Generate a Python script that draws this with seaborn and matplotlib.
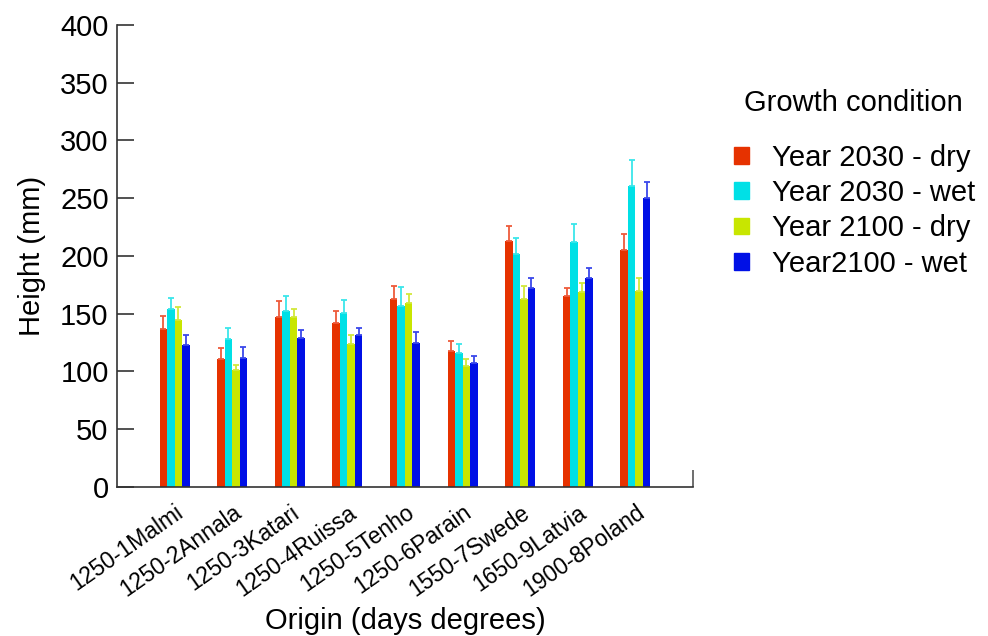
import numpy as np
import pandas as pd
import matplotlib
matplotlib.use("Agg")
import matplotlib.pyplot as plt
import seaborn as sns

origins = ["1250-1Malmi", "1250-2Annala", "1250-3Katari", "1250-4Ruissa",
           "1250-5Tenho", "1250-6Parain", "1550-7Swede", "1650-9Latvia", "1900-8Poland"]
conditions = ["Year 2030 - dry", "Year 2030 - wet", "Year 2100 - dry", "Year2100 - wet"]

dry_2030 = [137, 111, 147, 142, 163, 118, 213, 165, 205]
wet_2030 = [154, 128, 152, 151, 157, 116, 202, 212, 261]
dry_2100 = [145, 101, 147, 124, 159, 105, 163, 169, 170]
wet_2100 = [123, 112, 129, 132, 125, 107, 172, 181, 250]

# upper error (height of bar + err gives top of whisker)
err_dry_2030 = [11, 9, 14, 10, 11, 8, 13, 7, 14]
err_wet_2030 = [10, 10, 13, 11, 16, 8, 14, 16, 22]
err_dry_2100 = [11, 5, 7, 8, 8, 6, 11, 8, 11]
err_wet_2100 = [9, 9, 7, 6, 9, 6, 9, 9, 14]

colors = ["#e63200", "#00e0e6", "#c8e600", "#0010e6"]
err_colors = ["#ee5a3a", "#3ae6ea", "#d2e83a", "#3a48ea"]

means = [dry_2030, wet_2030, dry_2100, wet_2100]
errs = [err_dry_2030, err_wet_2030, err_dry_2100, err_wet_2100]

df = pd.DataFrame({
    "Origin": origins * 4,
    "Condition": np.repeat(conditions, len(origins)),
    "Height": np.concatenate(means),
})

plt.rcParams["font.family"] = ["Liberation Sans", "DejaVu Sans"]
fig = plt.figure(figsize=(9.88, 6.36), dpi=100)
ax = fig.add_axes([0.1184, 0.2343, 0.583, 0.7264])

sns.barplot(data=df, x="Origin", y="Height", hue="Condition", order=origins,
            hue_order=conditions, palette=colors, width=0.52, errorbar=None,
            saturation=1, ax=ax, legend=False)

for cont, e, c in zip(ax.containers, errs, err_colors):
    xs = [p.get_x() + p.get_width() / 2 for p in cont.patches]
    hs = [p.get_height() for p in cont.patches]
    ax.errorbar(xs, hs, yerr=[np.zeros(len(e)), e], fmt="none", ecolor=c,
                elinewidth=1.3, capsize=2.5, capthick=1.3, zorder=3)

ax.set_xlim(-1, 9)
ax.set_ylim(0, 400)
ax.set_yticks(range(0, 401, 50))
sns.despine(ax=ax)
for s in ["left", "bottom"]:
    ax.spines[s].set_linewidth(1.2)
    ax.spines[s].set_color("#333333")

ax.tick_params(axis="y", direction="in", length=12, width=1.2, labelsize=21, pad=6, color="#333333")
ax.tick_params(axis="x", which="major", length=0, labelsize=16.5, pad=10)
ax.set_xticks([9], minor=True)
ax.tick_params(axis="x", which="minor", direction="in", length=12, width=1.2, color="#555555")
plt.setp(ax.get_xticklabels(), rotation=35, ha="right", rotation_mode="anchor")

ax.set_xlabel("Origin (days degrees)", fontsize=21, labelpad=4)
ax.set_ylabel("Height (mm)", fontsize=21, labelpad=10)

fig.text(853 / 988, 1 - 103 / 636, "Growth condition", fontsize=21,
         ha="center", va="center")
handles = [plt.Rectangle((0, 0), 1, 1, color=c) for c in colors]
fig.legend(handles, conditions, loc="upper left",
           bbox_to_anchor=(0.737, 1 - 138 / 636), frameon=False, fontsize=21,
           handlelength=0.5, handleheight=0.5, handletextpad=0.8,
           labelspacing=0.25, borderaxespad=0, borderpad=0.2)

fig.savefig("out.png", dpi=100)
